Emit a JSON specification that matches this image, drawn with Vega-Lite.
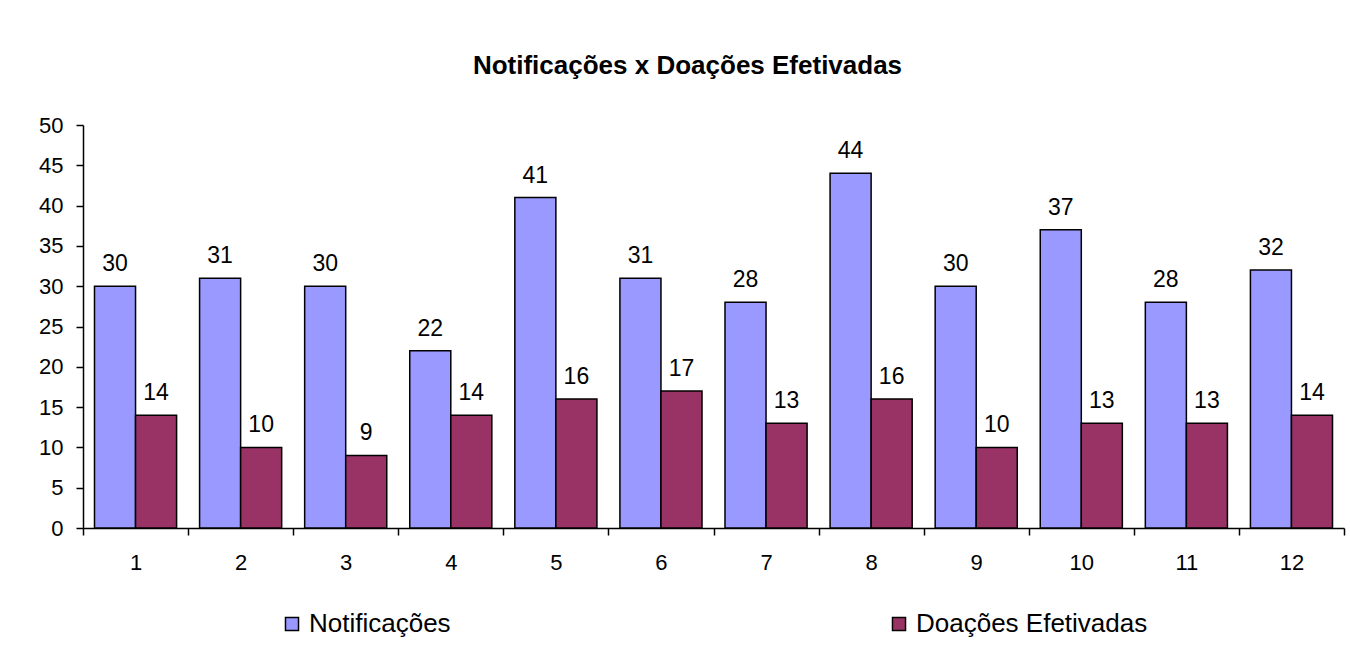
{
  "$schema": "https://vega.github.io/schema/vega-lite/v6.json",
  "width": 1261,
  "height": 403,
  "autosize": {"type": "none"},
  "padding": {"left": 83, "top": 125, "right": 6, "bottom": 123},
  "background": "white",
  "config": {
    "font": "Liberation Sans",
    "view": {"stroke": null},
    "legend": {"layout": {"bottom": {"anchor": "middle"}}}
  },
  "title": {
    "text": "Notificações x  Doações Efetivadas",
    "font": "Liberation Sans",
    "fontSize": 26,
    "fontWeight": "bold",
    "color": "black",
    "offset": 35,
    "dx": -26,
    "anchor": "middle"
  },
  "data": {
    "values": [
      {"mes": 1, "serie": "Notificações", "valor": 30},
      {"mes": 1, "serie": "Doações Efetivadas", "valor": 14},
      {"mes": 2, "serie": "Notificações", "valor": 31},
      {"mes": 2, "serie": "Doações Efetivadas", "valor": 10},
      {"mes": 3, "serie": "Notificações", "valor": 30},
      {"mes": 3, "serie": "Doações Efetivadas", "valor": 9},
      {"mes": 4, "serie": "Notificações", "valor": 22},
      {"mes": 4, "serie": "Doações Efetivadas", "valor": 14},
      {"mes": 5, "serie": "Notificações", "valor": 41},
      {"mes": 5, "serie": "Doações Efetivadas", "valor": 16},
      {"mes": 6, "serie": "Notificações", "valor": 31},
      {"mes": 6, "serie": "Doações Efetivadas", "valor": 17},
      {"mes": 7, "serie": "Notificações", "valor": 28},
      {"mes": 7, "serie": "Doações Efetivadas", "valor": 13},
      {"mes": 8, "serie": "Notificações", "valor": 44},
      {"mes": 8, "serie": "Doações Efetivadas", "valor": 16},
      {"mes": 9, "serie": "Notificações", "valor": 30},
      {"mes": 9, "serie": "Doações Efetivadas", "valor": 10},
      {"mes": 10, "serie": "Notificações", "valor": 37},
      {"mes": 10, "serie": "Doações Efetivadas", "valor": 13},
      {"mes": 11, "serie": "Notificações", "valor": 28},
      {"mes": 11, "serie": "Doações Efetivadas", "valor": 13},
      {"mes": 12, "serie": "Notificações", "valor": 32},
      {"mes": 12, "serie": "Doações Efetivadas", "valor": 14}
    ]
  },
  "encoding": {
    "x": {
      "field": "mes",
      "type": "ordinal",
      "scale": {"paddingInner": 0, "paddingOuter": 0},
      "axis": {
        "title": null,
        "labelAngle": 0,
        "labelFont": "Liberation Sans",
        "labelFontSize": 22,
        "labelColor": "black",
        "labelPadding": 17,
        "domainColor": "black",
        "domainWidth": 1.5,
        "tickColor": "black",
        "tickWidth": 1.5,
        "tickSize": 7,
        "tickBand": "extent",
        "grid": false
      }
    },
    "xOffset": {
      "field": "serie",
      "sort": ["Notificações", "Doações Efetivadas"],
      "scale": {"paddingInner": 0, "paddingOuter": 0.28}
    },
    "y": {
      "field": "valor",
      "type": "quantitative",
      "scale": {"domain": [0, 50], "nice": false},
      "axis": {
        "title": null,
        "values": [0, 5, 10, 15, 20, 25, 30, 35, 40, 45, 50],
        "labelFont": "Liberation Sans",
        "labelFontSize": 22,
        "labelColor": "black",
        "labelPadding": 13,
        "domainColor": "black",
        "domainWidth": 1.5,
        "tickColor": "black",
        "tickWidth": 1.5,
        "tickSize": 7,
        "grid": false
      }
    }
  },
  "layer": [
    {
      "mark": {"type": "bar", "stroke": "black", "strokeWidth": 1.5},
      "encoding": {
        "color": {
          "field": "serie",
          "type": "nominal",
          "scale": {"domain": ["Notificações", "Doações Efetivadas"], "range": ["#9999FF", "#993366"]},
          "legend": {
            "title": null,
            "orient": "bottom",
            "direction": "horizontal",
            "columns": 2,
            "columnPadding": 435,
            "offset": 38,
            "symbolType": "square",
            "symbolSize": 170,
            "symbolStrokeColor": "black",
            "symbolStrokeWidth": 1.5,
            "labelFont": "Liberation Sans",
            "labelFontSize": 26,
            "labelColor": "black",
            "labelOffset": 4,
            "labelLimit": 500
          }
        }
      }
    },
    {
      "mark": {"type": "text", "baseline": "bottom", "dy": -10, "font": "Liberation Sans", "fontSize": 23, "color": "black"},
      "encoding": {"text": {"field": "valor", "type": "quantitative"}}
    }
  ]
}
